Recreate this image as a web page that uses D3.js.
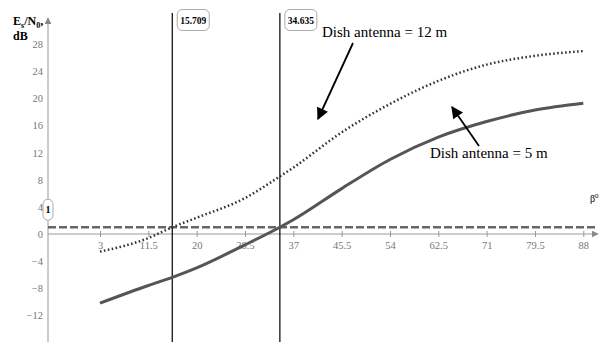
<!DOCTYPE html>
<html>
<head>
<meta charset="utf-8">
<script src="https://cdn.jsdelivr.net/npm/d3@7"></script>
<style>
  body { margin: 0; background: #fff; }
  svg { display: block; font-family: "Liberation Serif", "Times New Roman", serif; }
</style>
</head>
<body>
<svg></svg>
<script>
(() => {
    const width = 604;
    const height = 342;

    // data
    const betaTicks = [3, 11.5, 20, 28.5, 37, 45.5, 54, 62.5, 71, 79.5, 88];
    const dbTicks = [-12, -8, -4, 0, 4, 8, 12, 16, 20, 24, 28];
    const beta = [3, 11.5, 15.709, 20, 28.5, 34.635, 37, 45.5, 54, 62.5, 71, 79.5, 88];
    const dish5 = [-10.2, -7.6, -6.4, -5.0, -1.6, 1.0, 2.1, 6.7, 11.0, 14.3, 16.6, 18.3, 19.3];
    const dish12 = [-2.6, -0.6, 1.0, 2.4, 5.3, 8.5, 9.8, 15.0, 19.2, 22.6, 25.0, 26.3, 27.0];
    const crossings = [15.709, 34.635];
    const threshold = 1;

    const svg = d3.select("svg")
        .attr("width", width)
        .attr("height", height);

    const x = d3.scaleLinear().domain([3, 88]).range([100, 583.3]);
    const y = d3.scaleLinear().domain([0, 28]).range([234, 44.3]);

    const defs = svg.append("defs");
    defs.append("marker")
        .attr("id", "axisArrow")
        .attr("viewBox", "0 0 10 10")
        .attr("refX", 9).attr("refY", 5)
        .attr("markerWidth", 7).attr("markerHeight", 7)
        .attr("markerUnits", "userSpaceOnUse")
        .attr("orient", "auto")
        .append("path").attr("d", "M0,0L10,5L0,10Z").attr("fill", "#888");
    defs.append("marker")
        .attr("id", "noteArrow")
        .attr("viewBox", "0 0 10 10")
        .attr("refX", 9).attr("refY", 5)
        .attr("markerWidth", 14).attr("markerHeight", 12)
        .attr("markerUnits", "userSpaceOnUse")
        .attr("orient", "auto")
        .append("path").attr("d", "M0,0L10,5L0,10Z").attr("fill", "#000");

    // axis lines
    svg.append("line")
        .attr("x1", 48).attr("x2", 598)
        .attr("y1", y(0)).attr("y2", y(0))
        .attr("stroke", "#999").attr("stroke-width", 1)
        .attr("marker-end", "url(#axisArrow)");
    svg.append("line")
        .attr("x1", 48).attr("x2", 48)
        .attr("y1", height).attr("y2", 18)
        .attr("stroke", "#999").attr("stroke-width", 1)
        .attr("marker-end", "url(#axisArrow)");

    const xAxis = svg.append("g")
        .attr("transform", `translate(0,${y(0)})`)
        .call(d3.axisBottom(x).tickValues(betaTicks).tickSize(3).tickPadding(5).tickFormat(d3.format("")));
    xAxis.select(".domain").remove();
    xAxis.selectAll(".tick line").attr("y1", -3).attr("stroke", "#999");
    xAxis.selectAll(".tick text")
        .attr("fill", "#777")
        .style("font-family", "Liberation Serif, serif")
        .style("font-size", "10.5px");

    const yAxis = svg.append("g")
        .attr("transform", "translate(48,0)")
        .call(d3.axisLeft(y).tickValues(dbTicks).tickSize(0).tickPadding(5));
    yAxis.select(".domain").remove();
    yAxis.selectAll(".tick text")
        .attr("fill", "#777")
        .style("font-family", "Liberation Serif, serif")
        .style("font-size", "10.5px");

    // 1 dB threshold
    svg.append("line")
        .attr("x1", 48).attr("x2", 596)
        .attr("y1", y(threshold)).attr("y2", y(threshold))
        .attr("stroke", "#666").attr("stroke-width", 2.5)
        .attr("stroke-dasharray", "8,3");

    // vertical crossing lines
    svg.selectAll(".cross")
        .data(crossings)
        .enter()
        .append("line")
        .attr("class", "cross")
        .attr("x1", d => x(d)).attr("x2", d => x(d))
        .attr("y1", 13).attr("y2", height)
        .attr("stroke", "#000").attr("stroke-width", 1.2);

    const line = d3.line()
        .x(d => x(d[0]))
        .y(d => y(d[1]))
        .curve(d3.curveMonotoneX);

    svg.append("path")
        .datum(d3.zip(beta, dish5))
        .attr("d", line)
        .attr("fill", "none")
        .attr("stroke", "#555")
        .attr("stroke-width", 3);

    svg.append("path")
        .datum(d3.zip(beta, dish12))
        .attr("d", line)
        .attr("fill", "none")
        .attr("stroke", "#333")
        .attr("stroke-width", 2.5)
        .attr("stroke-dasharray", "1.6,2.4");

    // crossing value labels
    const tags = svg.selectAll(".tag")
        .data(crossings)
        .enter()
        .append("g")
        .attr("class", "tag")
        .attr("transform", d => `translate(${x(d) + 5},9.5)`);
    tags.append("rect")
        .attr("width", 32).attr("height", 21)
        .attr("rx", 5)
        .attr("fill", "#fff").attr("stroke", "#aaa");
    tags.append("text")
        .attr("x", 16).attr("y", 14)
        .attr("text-anchor", "middle")
        .style("font-size", "9.5px")
        .style("font-weight", "bold")
        .text(d => d3.format(".3f")(d));

    // threshold tag on y axis
    const oneTag = svg.append("g").attr("transform", `translate(48,${y(threshold) - 18})`);
    oneTag.append("rect")
        .attr("x", -5).attr("y", -10)
        .attr("width", 10).attr("height", 21)
        .attr("rx", 5)
        .attr("fill", "#fff").attr("stroke", "#aaa");
    oneTag.append("text")
        .attr("y", 4)
        .attr("text-anchor", "middle")
        .style("font-size", "10px")
        .style("font-weight", "bold")
        .text(threshold);

    // axis titles
    const yTitle = svg.append("text")
        .attr("x", 13).attr("y", 25)
        .style("font-size", "12px")
        .style("font-weight", "bold");
    yTitle.append("tspan").text("E");
    yTitle.append("tspan").attr("dy", 3).style("font-size", "8px").text("s");
    yTitle.append("tspan").attr("dy", -3).text("/N");
    yTitle.append("tspan").attr("dy", 3).style("font-size", "8px").text("0");
    yTitle.append("tspan").attr("dy", -3).text(",");
    svg.append("text")
        .attr("x", 13).attr("y", 40)
        .style("font-size", "12px")
        .style("font-weight", "bold")
        .text("dB");

    const xTitle = svg.append("text")
        .attr("x", 590).attr("y", 202)
        .style("font-size", "10px");
    xTitle.append("tspan").text("β");
    xTitle.append("tspan").attr("dy", -4).style("font-size", "7px").text("0");

    // annotations
    svg.append("text")
        .attr("x", 322).attr("y", 37)
        .style("font-size", "15px")
        .text("Dish antenna = 12 m");
    svg.append("line")
        .attr("x1", 353).attr("y1", 43)
        .attr("x2", 318).attr("y2", 119)
        .attr("stroke", "#000").attr("stroke-width", 1.8)
        .attr("marker-end", "url(#noteArrow)");

    svg.append("text")
        .attr("x", 430).attr("y", 158)
        .style("font-size", "15px")
        .text("Dish antenna = 5 m");
    svg.append("line")
        .attr("x1", 479).attr("y1", 146)
        .attr("x2", 452).attr("y2", 107)
        .attr("stroke", "#000").attr("stroke-width", 1.8)
        .attr("marker-end", "url(#noteArrow)");
})();
</script>
</body>
</html>
